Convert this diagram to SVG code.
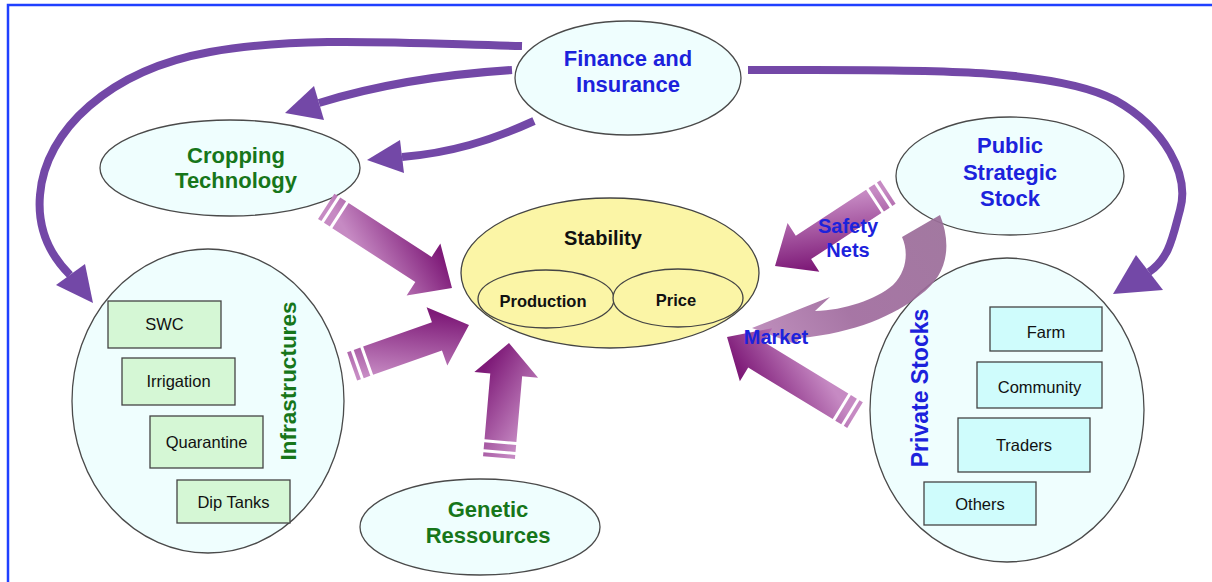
<svg xmlns="http://www.w3.org/2000/svg" width="1212" height="582" viewBox="0 0 1212 582">
<style>
.node{fill:#effefe;stroke:#4a4a4a;stroke-width:1.3}
.stab{fill:#fbf5a6;stroke:#444;stroke-width:1.3}
.gbox{fill:#d5f7d5;stroke:#444;stroke-width:1.3}
.cbox{fill:#cffcfc;stroke:#444;stroke-width:1.3}
.arc{fill:none;stroke:#7348a7;stroke-width:8}
.head{fill:#7348a7}
.fat{fill:url(#fatGrad)}
.t{font-family:"Liberation Sans",Arial,sans-serif;font-weight:bold;text-anchor:middle}
.blue{fill:#1c22dc}
.green{fill:#17761a}
.blk{fill:#111}
.box{font-family:"Liberation Sans",Arial,sans-serif;font-size:16.5px;fill:#111;text-anchor:middle}
</style>
<defs>
<linearGradient id="fatGrad" gradientUnits="userSpaceOnUse" x1="-40" y1="-28" x2="-70" y2="34">
<stop offset="0" stop-color="#7e1a78"/>
<stop offset="1" stop-color="#c68ac3"/>
</linearGradient>
<linearGradient id="curvGrad" gradientUnits="userSpaceOnUse" x1="940" y1="215" x2="760" y2="335">
<stop offset="0" stop-color="#9a6d98"/>
<stop offset="0.6" stop-color="#9f6a9d"/>
<stop offset="1" stop-color="#b884b6"/>
</linearGradient>
</defs>
<rect x="0" y="0" width="1212" height="582" fill="#fff"/>
<rect x="8" y="5" width="1230" height="620" fill="none" stroke="#2040ff" stroke-width="2.5"/>

<g id="finance">
<ellipse class="node" cx="628" cy="78" rx="113" ry="57"/>
<text class="t blue" x="628" y="66" font-size="22">Finance and</text>
<text class="t blue" x="628" y="92" font-size="22">Insurance</text>
</g>
<g id="cropping">
<ellipse class="node" cx="230" cy="168" rx="130" ry="48"/>
<text class="t green" x="236" y="163" font-size="22">Cropping</text>
<text class="t green" x="236" y="188" font-size="22">Technology</text>
</g>
<g id="public-stock">
<ellipse class="node" cx="1010" cy="176" rx="114" ry="59"/>
<text class="t blue" x="1010" y="153" font-size="22">Public</text>
<text class="t blue" x="1010" y="180" font-size="22">Strategic</text>
<text class="t blue" x="1010" y="206" font-size="22">Stock</text>
</g>
<g id="stability">
<ellipse class="stab" cx="610" cy="273" rx="149" ry="75"/>
<text class="t blk" x="603" y="245" font-size="20">Stability</text>
<ellipse class="stab" cx="546" cy="299" rx="68" ry="29" fill="none"/>
<ellipse class="stab" cx="678" cy="298" rx="65" ry="29" fill="none"/>
<text class="t blk" x="543" y="307" font-size="16.5">Production</text>
<text class="t blk" x="676" y="306" font-size="16.5">Price</text>
</g>
<g id="infrastructures">
<ellipse class="node" cx="208" cy="401" rx="136" ry="152"/>
<rect class="gbox" x="108" y="301" width="113" height="47"/>
<text class="box" x="164.5" y="330">SWC</text>
<rect class="gbox" x="122" y="358" width="113" height="47"/>
<text class="box" x="178.5" y="387">Irrigation</text>
<rect class="gbox" x="150" y="416" width="113" height="52"/>
<text class="box" x="206.5" y="448">Quarantine</text>
<rect class="gbox" x="177" y="480" width="113" height="43"/>
<text class="box" x="233.5" y="508">Dip Tanks</text>
<text class="t green" font-size="22.5" transform="translate(296,381) rotate(-90)">Infrastructures</text>
</g>
<g id="private-stocks">
<ellipse class="node" cx="1007" cy="410" rx="137" ry="152"/>
<rect class="cbox" x="990" y="307" width="112" height="44"/>
<text class="box" x="1046" y="338">Farm</text>
<rect class="cbox" x="977" y="362" width="125" height="46"/>
<text class="box" x="1039.5" y="393">Community</text>
<rect class="cbox" x="958" y="418" width="132" height="54"/>
<text class="box" x="1024" y="451">Traders</text>
<rect class="cbox" x="924" y="482" width="112" height="43"/>
<text class="box" x="980" y="510">Others</text>
<text class="t blue" font-size="23" transform="translate(928,388) rotate(-90)">Private Stocks</text>
</g>
<g id="genetic">
<ellipse class="node" cx="480" cy="527" rx="120" ry="48"/>
<text class="t green" x="488" y="517" font-size="22">Genetic</text>
<text class="t green" x="488" y="543" font-size="22">Ressources</text>
</g>

<g id="connectors">
<path class="arc" d="M522,46 C400,43 300,36 210,52 C110,70 45,130 40,195 C37,230 50,255 70,275"/>
<polygon class="head" points="93,303 56,285 85,264"/>
<path class="arc" d="M512,70 C450,74 380,84 319,103"/>
<polygon class="head" points="285,113 314,86 324,120"/>
<path class="arc" d="M534,121 C490,141 450,153 402,157"/>
<polygon class="head" points="367,160 400,140 404,173"/>
<path class="arc" stroke-width="9" d="M748,70 C900,70 1050,66 1115,100 C1165,128 1190,175 1180,210 C1173,235 1170,258 1149,272"/>
<polygon class="head" points="1113,294 1136,255 1163,290"/>

<path d="M940,215 C952,245 948,275 920,295 C895,315 855,333 800,338 L795,344 L752,328 L830,297 L815,311 C845,310 875,300 893,285 C908,270 908,250 902,237 Z" fill="url(#curvGrad)" opacity="0.92"/>

<g class="fat" transform="translate(452,288) rotate(33)">
<path d="M-133,-15 H-34 V-31 L0,0 L-34,31 V15 H-133 Z"/>
<path d="M-143,-15 h7 v30 h-7 Z"/>
<path d="M-150,-15 h4 v30 h-4 Z"/>
</g>
<g class="fat" transform="translate(469,325) rotate(-19.5)">
<path d="M-107,-15 H-34 V-31 L0,0 L-34,31 V15 H-107 Z"/>
<path d="M-117,-15 h7 v30 h-7 Z"/>
<path d="M-124,-15 h4 v30 h-4 Z"/>
</g>
<g class="fat" transform="translate(509,343) rotate(-85)">
<path d="M-98,-16 H-32 V-32 L0,0 L-32,32 V16 H-98 Z"/>
<path d="M-108,-16 h7 v32 h-7 Z"/>
<path d="M-115,-16 h4 v32 h-4 Z"/>
</g>
<g class="fat" transform="translate(775,266) rotate(146.8)">
<path d="M-118,-14 H-34 V-29 L0,0 L-34,29 V14 H-118 Z"/>
<path d="M-128,-14 h7 v28 h-7 Z"/>
<path d="M-135,-14 h4 v28 h-4 Z"/>
</g>
<g class="fat" transform="translate(727,337) rotate(211.4)">
<path d="M-133,-15 H-34 V-31 L0,0 L-34,31 V15 H-133 Z"/>
<path d="M-143,-15 h7 v30 h-7 Z"/>
<path d="M-150,-15 h4 v30 h-4 Z"/>
</g>
<text class="t blue" x="848" y="233" font-size="20">Safety</text>
<text class="t blue" x="848" y="257" font-size="20">Nets</text>
<text class="t blue" x="776" y="344" font-size="20">Market</text>
</g>
</svg>
